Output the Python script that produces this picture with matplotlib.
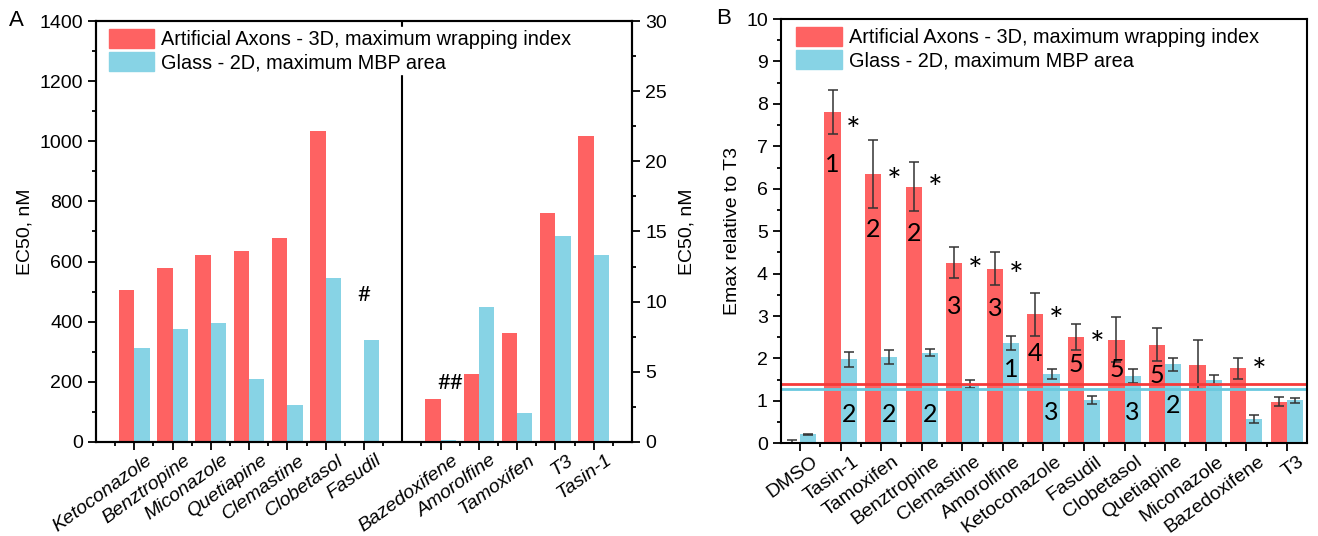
import numpy as np
import matplotlib
matplotlib.use('Agg')
import matplotlib.pyplot as plt
from matplotlib.patches import Patch
from matplotlib.ticker import MultipleLocator
from matplotlib.transforms import ScaledTranslation

plt.rcParams['font.family'] = ['Liberation Sans', 'DejaVu Sans']

RED = '#fe6262'
CYAN = '#87d3e5'

# Panel A data (EC50, nM)
a_left_names = ['Ketoconazole', 'Benztropine', 'Miconazole', 'Quetiapine', 'Clemastine', 'Clobetasol', 'Fasudil']
a_left_3d = [505, 580, 622, 635, 677, 1035, np.nan]
a_left_2d = [314, 375, 397, 208, 122, 547, 338]
a_right_names = ['Bazedoxifene', 'Amorolfine', 'Tamoxifen', 'T3', 'Tasin-1']
a_right_3d = [3.07, 4.88, 7.8, 16.3, 21.8]
a_right_2d = [0.12, 9.63, 2.1, 14.7, 13.3]

# Panel B data (Emax relative to T3)
b_names = ['DMSO', 'Tasin-1', 'Tamoxifen', 'Benztropine', 'Clemastine', 'Amorolfine', 'Ketoconazole',
           'Fasudil', 'Clobetasol', 'Quetiapine', 'Miconazole', 'Bazedoxifene', 'T3']
b_3d = [0.04, 7.80, 6.35, 6.05, 4.26, 4.12, 3.04, 2.51, 2.44, 2.32, 1.85, 1.77, 0.98]
b_3d_err = [0.03, 0.52, 0.81, 0.58, 0.37, 0.40, 0.51, 0.31, 0.53, 0.39, 0.58, 0.25, 0.11]
b_2d = [0.21, 1.98, 2.03, 2.14, 1.40, 2.36, 1.63, 1.02, 1.59, 1.86, 1.49, 0.57, 1.01]
b_2d_err = [0.02, 0.17, 0.16, 0.09, 0.09, 0.17, 0.11, 0.10, 0.17, 0.16, 0.11, 0.09, 0.06]
b_rank_3d = ['', '1', '2', '2', '3', '3', '4', '5', '5', '5', '', '', '']
b_rank_3d_y = [0, 6.56, 5.03, 4.95, 3.22, 3.18, 2.12, 1.85, 1.73, 1.61, 0, 0, 0]
b_rank_2d = ['', '2', '2', '2', '', '1', '3', '', '3', '2', '', '', '']
b_rank_2d_y = [0, 0.67, 0.67, 0.67, 0, 1.74, 0.72, 0, 0.72, 0.88, 0, 0, 0]
b_star_y = [None, 7.58, 6.37, 6.22, 4.28, 4.16, 3.09, 2.53, None, None, None, 1.89, None]
thr_3d = 1.40
thr_2d = 1.28

labels = ['Artificial Axons - 3D, maximum wrapping index', 'Glass - 2D, maximum MBP area']

fig = plt.figure(figsize=(13.18, 5.36), dpi=100)
fs = 14
lfs = 14.3
xfs = 14
rot = 36
w = 0.4
shift = ScaledTranslation(11 / 100, 0, fig.dpi_scale_trans)

# ---------- Panel A ----------
ax = fig.add_axes([0.0728, 0.1754, 0.4067, 0.7854])
ax2 = ax.twinx()
xl = np.arange(len(a_left_names))
xr = np.arange(len(a_right_names)) + len(a_left_names) + 1
ax.bar(xl - w/2, a_left_3d, w, color=RED)
ax.bar(xl + w/2, a_left_2d, w, color=CYAN)
ax2.bar(xr - w/2, a_right_3d, w, color=RED)
ax2.bar(xr + w/2, a_right_2d, w, color=CYAN)
ax.axvline(len(a_left_names), color='black', lw=1.5)
ax.set_xlim(-1, xr[-1] + 1)
ax.set_ylim(0, 1400)
ax2.set_ylim(0, 30)
ax.yaxis.set_major_locator(MultipleLocator(200))
ax.yaxis.set_minor_locator(MultipleLocator(100))
ax2.yaxis.set_major_locator(MultipleLocator(5))
ax2.yaxis.set_minor_locator(MultipleLocator(2.5))
ax.set_xticks(list(xl) + list(xr))
ax.set_xticks(np.arange(-0.5, xr[-1] + 1, 1), minor=True)
ax.set_ylabel('EC50, nM', fontsize=fs)
ax2.set_ylabel('EC50, nM', fontsize=fs, rotation=90, labelpad=8)
for a in (ax, ax2):
    a.tick_params(which='both', direction='out', labelsize=fs, width=1.3)
    a.tick_params(which='major', length=6)
    a.tick_params(which='minor', length=3)
    for s in a.spines.values():
        s.set_linewidth(1.5)
ax.tick_params(axis='x', which='major', pad=1)
ax.set_xticklabels(a_left_names + a_right_names, rotation=rot, ha='right', va='top',
                   rotation_mode='anchor', style='italic', fontsize=xfs)
for lab in ax.get_xticklabels():
    lab.set_transform(lab.get_transform() + shift)
ax.text(6, 488, '#', fontsize=16, family='Lato', ha='center', va='center')
ax2.text(8.25, 4.2, '##', fontsize=16, family='Lato', ha='center', va='center')
handles = [Patch(color=RED), Patch(color=CYAN)]
leg = ax2.legend(handles, labels, loc='upper left', bbox_to_anchor=(0.02, 0.985), fontsize=lfs,
                 frameon=True, framealpha=1, edgecolor='white', fancybox=False,
                 handlelength=2.3, handleheight=1.05, handletextpad=0.35, labelspacing=0.15,
                 borderpad=0.1, borderaxespad=0)
fig.text(0.007, 0.962, 'A', fontsize=16, va='center')

# ---------- Panel B ----------
bx = fig.add_axes([0.5926, 0.1729, 0.3991, 0.7916])
xb = np.arange(len(b_names))
ek = dict(ecolor='#333333', elinewidth=1.1, capsize=3.5, capthick=1.1)
bx.bar(xb - w/2, b_3d, w, yerr=b_3d_err, color=RED, error_kw=ek)
bx.bar(xb + w/2, b_2d, w, yerr=b_2d_err, color=CYAN, error_kw=ek)
bx.axhline(thr_3d, color='#f53a3a', lw=2)
bx.axhline(thr_2d, color='#68c8de', lw=2)
for i in xb:
    if b_rank_3d[i]:
        bx.text(i - w/2, b_rank_3d_y[i], b_rank_3d[i], family='Lato', fontsize=18, ha='center', va='center')
    if b_rank_2d[i]:
        bx.text(i + w/2, b_rank_2d_y[i], b_rank_2d[i], family='Lato', fontsize=18, ha='center', va='center')
    if b_star_y[i] is not None:
        # asterisk glyph sits high in its box, so anchor a bit lower
        bx.text(i + 0.32, b_star_y[i] - 0.24, '*', family='Lato', fontsize=25, ha='center', va='center')
bx.set_xlim(-0.47, len(b_names) - 0.5)
bx.set_ylim(0, 10)
bx.yaxis.set_major_locator(MultipleLocator(1))
bx.yaxis.set_minor_locator(MultipleLocator(0.5))
bx.set_xticks(xb)
bx.set_xticks(np.arange(0.5, len(b_names) - 0.5, 1), minor=True)
bx.set_ylabel('Emax relative to T3', fontsize=fs)
bx.tick_params(which='both', direction='out', labelsize=fs, width=1.3)
bx.tick_params(which='major', length=6)
bx.tick_params(which='minor', length=3)
bx.tick_params(axis='x', which='major', pad=1)
bx.set_xticklabels(b_names, rotation=rot, ha='right', va='top', rotation_mode='anchor', fontsize=xfs)
for lab in bx.get_xticklabels():
    lab.set_transform(lab.get_transform() + shift)
for s in bx.spines.values():
    s.set_linewidth(1.5)
bx.legend(handles, labels, loc='upper left', bbox_to_anchor=(0.025, 0.985), fontsize=lfs,
          frameon=False, handlelength=2.3, handleheight=1.05, handletextpad=0.35,
          labelspacing=0.15, borderpad=0.1, borderaxespad=0)
fig.text(0.543, 0.966, 'B', fontsize=16, va='center')

fig.savefig('out.png', dpi=100)
